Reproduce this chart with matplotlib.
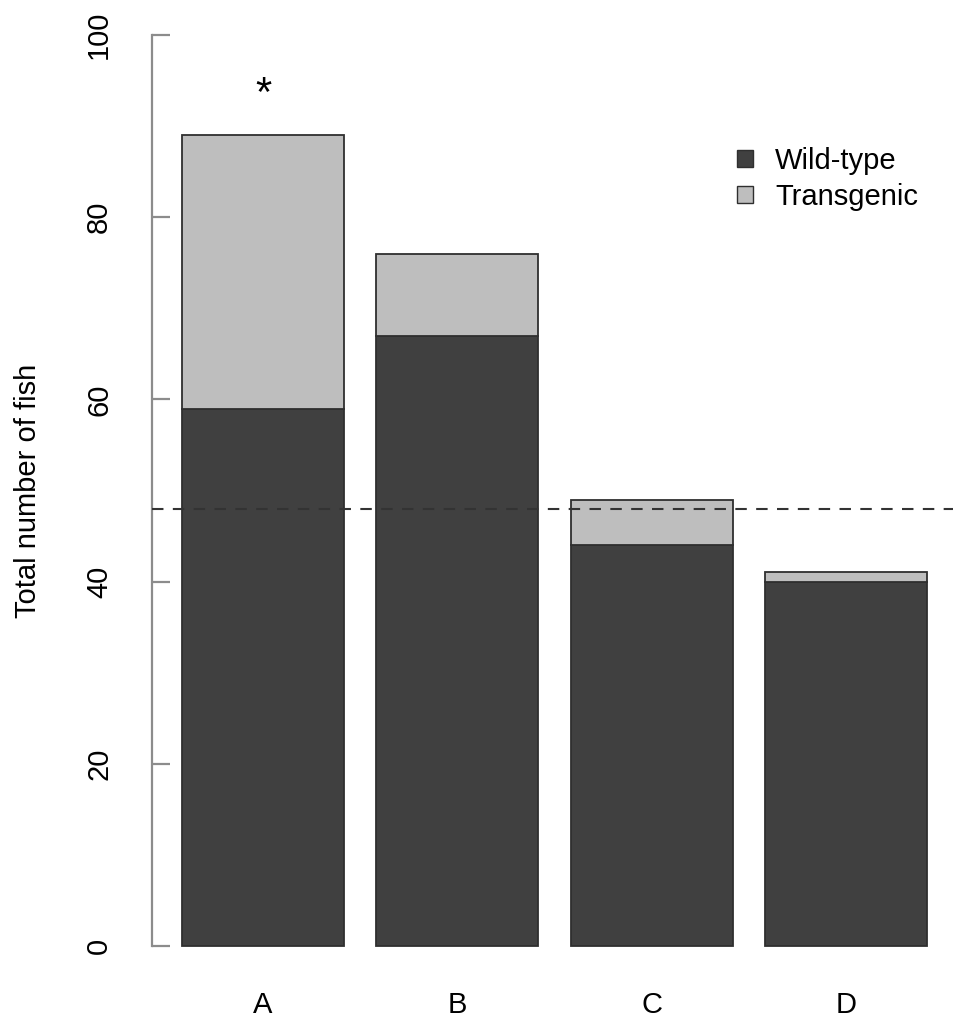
import matplotlib
matplotlib.use("Agg")
import matplotlib.pyplot as plt
from matplotlib.patches import Patch

plt.rcParams['font.family'] = ['Liberation Sans', 'DejaVu Sans']

categories = ["A", "B", "C", "D"]
wild_type = [59, 67, 44, 40]
transgenic = [30, 9, 5, 1]
reference_level = 48
star_height = 95.6

dark = "#404040"
light = "#bebebe"
edge = "#2f2f2f"
axis_grey = "#8c8c8c"
FS = 21

W, H = 954, 1019
ax_left, ax_top, ax_bottom = 152, -1.4, 982.4

fig = plt.figure(figsize=(W / 100, H / 100), dpi=100)
ax = fig.add_axes([ax_left / W, (H - ax_bottom) / H,
                   1 - ax_left / W, (ax_bottom - ax_top) / H])

# bar layout like R's barplot: width 1, space 0.2
xs = [0.2 + 1.2 * i + 0.5 for i in range(len(categories))]
ax.bar(xs, wild_type, width=1.0, color=dark, edgecolor=edge, linewidth=1.3)
ax.bar(xs, transgenic, width=1.0, bottom=wild_type, color=light,
       edgecolor=edge, linewidth=1.3)

ax.set_xlim(0.015, 4.965)
ax.set_ylim(-4, 104)

ax.axhline(reference_level, color="#333333", linewidth=1.5,
           linestyle=(0, (5.5, 4.5)), zorder=3)

ax.text(xs[0], star_height, "*", ha="center", va="top", fontsize=30)

for s in ["top", "right", "bottom"]:
    ax.spines[s].set_visible(False)
ax.spines["left"].set_color(axis_grey)
ax.spines["left"].set_linewidth(1.6)
ax.spines["left"].set_bounds(0, 100)

ax.set_yticks([0, 20, 40, 60, 80, 100])
ax.set_yticklabels(["0", "20", "40", "60", "80", "100"], rotation=90,
                   va="center", fontsize=FS)
for lab in ax.get_yticklabels():
    lab.set_horizontalalignment("center")
ax.tick_params(axis="y", direction="in", length=13, width=1.6,
               color=axis_grey, pad=38)

ax.set_xticks(xs)
ax.set_xticklabels(categories, fontsize=FS)
ax.tick_params(axis="x", length=0, pad=6)

ax.set_ylabel("Total number of fish", fontsize=FS, labelpad=31)

handles = [Patch(facecolor=dark, edgecolor=edge, label="Wild-type"),
           Patch(facecolor=light, edgecolor=edge, label="Transgenic")]
leg_x = (737 - ax_left) / (W - ax_left)
leg_y = 1 - (147 - ax_top) / (ax_bottom - ax_top)
ax.legend(handles=handles, loc="upper left", bbox_to_anchor=(leg_x, leg_y),
          frameon=False, fontsize=FS, handlelength=0.55, handleheight=0.55,
          handletextpad=0.75, labelspacing=0.27, borderpad=0,
          borderaxespad=0)

fig.savefig("out.png", dpi=100)
